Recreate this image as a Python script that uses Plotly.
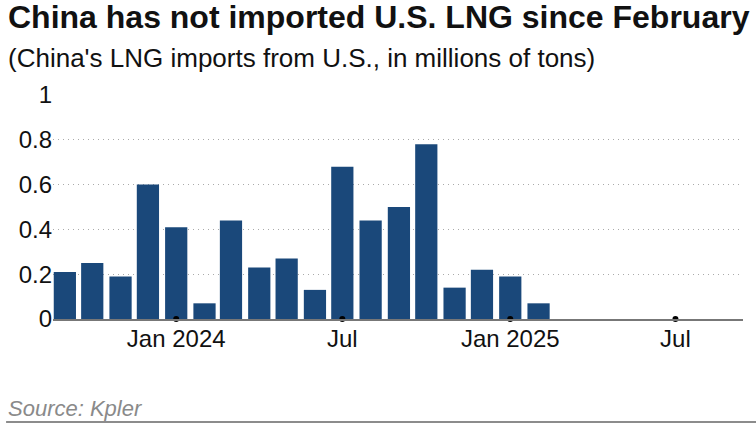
import plotly.graph_objects as go

# monthly imports, Sep 2023 - Feb 2025 (millions of tons)
months = [
    "2023-09-01", "2023-10-01", "2023-11-01", "2023-12-01",
    "2024-01-01", "2024-02-01", "2024-03-01", "2024-04-01",
    "2024-05-01", "2024-06-01", "2024-07-01", "2024-08-01",
    "2024-09-01", "2024-10-01", "2024-11-01", "2024-12-01",
    "2025-01-01", "2025-02-01",
]
imports = [0.21, 0.25, 0.19, 0.60, 0.41, 0.07, 0.44, 0.23, 0.27,
           0.13, 0.68, 0.44, 0.50, 0.78, 0.14, 0.22, 0.19, 0.07]

tick_vals = ["2024-01-01", "2024-07-01", "2025-01-01", "2025-07-01"]
tick_text = ["Jan 2024", "Jul", "Jan 2025", "Jul"]
y_ticks = [0, 0.2, 0.4, 0.6, 0.8, 1]
y_text = ["0", "0.2", "0.4", "0.6", "0.8", "1"]

FONT = "Liberation Sans, Arial, sans-serif"
BLUE = "#1a487a"

fig = go.Figure()
fig.add_trace(go.Bar(
    x=months, y=imports,
    marker=dict(color=BLUE, line=dict(width=0)),
    hoverinfo="x+y",
))
# small dots marking the x ticks on the baseline
fig.add_trace(go.Scatter(
    x=tick_vals, y=[0] * len(tick_vals),
    mode="markers",
    marker=dict(color="black", size=6),
    cliponaxis=False,
    hoverinfo="skip",
))

fig.update_layout(
    width=756, height=424,
    margin=dict(l=53, r=13, t=95, b=105),
    paper_bgcolor="white", plot_bgcolor="white",
    showlegend=False,
    bargap=0.16,
    font=dict(family=FONT, color="#111"),
    xaxis=dict(
        type="date",
        range=["2023-08-19", "2025-09-13"],
        tickvals=tick_vals, ticktext=tick_text,
        tickfont=dict(size=24, color="#111"),
        showgrid=False, zeroline=False,
        showline=True, linecolor="#777", linewidth=1.5,
        ticks="", ticklabelstandoff=-3,
    ),
    yaxis=dict(
        range=[0, 1.0],
        tickvals=y_ticks, ticktext=y_text,
        tickfont=dict(size=24, color="#111"),
        showgrid=True, gridcolor="#aaaaaa", griddash="1px,4px", gridwidth=1,
        zeroline=False, showline=False, ticks="",
    ),
    annotations=[
        dict(text="<b>China has not imported U.S. LNG since February</b>",
             xref="paper", yref="paper", x=-0.068, y=1.346,
             xanchor="left", yanchor="middle", showarrow=False,
             font=dict(size=32, color="#111", family=FONT)),
        dict(text="(China's LNG imports from U.S., in millions of tons)",
             xref="paper", yref="paper", x=-0.068, y=1.167,
             xanchor="left", yanchor="middle", showarrow=False,
             font=dict(size=26, color="#111", family=FONT)),
        dict(text="<i>Source: Kpler</i>",
             xref="paper", yref="paper", x=-0.068, y=-0.40,
             xanchor="left", yanchor="middle", showarrow=False,
             font=dict(size=22, color="#8a8a8a", family=FONT)),
    ],
    shapes=[
        dict(type="line", xref="paper", yref="paper",
             x0=-0.068, x1=1.02, y0=-0.46, y1=-0.46,
             line=dict(color="#666", width=1.5)),
    ],
)

# drop the page's default body margin so the figure sits at the top-left
fig.write_html(
    "out.html",
    config={"displayModeBar": False},
    post_script="document.body.style.margin='0';"
                "document.body.style.overflow='hidden';",
)
